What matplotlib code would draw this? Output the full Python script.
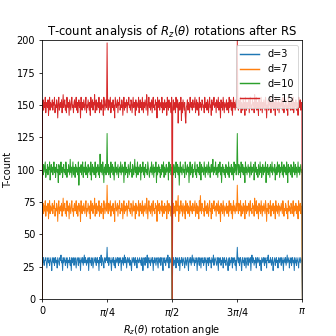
import matplotlib
matplotlib.use("Agg")
import matplotlib.pyplot as plt
import numpy as np

# T-count per rotation angle (481 angles from 0 to pi)
tc_d3 = [
    0, 30, 28, 32, 26, 30, 30, 32, 28, 24, 30, 32, 28, 30, 26, 32, 30, 28, 22, 32,
    30, 28, 32, 26, 30, 32, 28, 30, 24, 32, 30, 28, 26, 32, 30, 34, 28, 30, 22, 32,
    28, 30, 32, 26, 30, 28, 32, 24, 30, 30, 28, 32, 26, 30, 22, 32, 28, 30, 32, 26,
    30, 32, 28, 24, 30, 32, 30, 26, 32, 28, 30, 22, 32, 30, 28, 32, 26, 30, 34, 28,
    32, 30, 26, 30, 28, 32, 22, 30, 32, 28, 30, 26, 32, 30, 24, 28, 32, 30, 28, 32,
    26, 30, 32, 28, 30, 22, 32, 28, 30, 34, 26, 32, 30, 28, 24, 32, 30, 28, 32, 30,
    40, 28, 32, 26, 30, 32, 28, 30, 22, 32, 30, 28, 32, 26, 30, 24, 32, 30, 28, 32,
    30, 26, 32, 28, 30, 32, 22, 30, 28, 32, 26, 30, 34, 28, 32, 30, 24, 30, 32, 28,
    30, 32, 26, 30, 28, 22, 32, 30, 28, 32, 30, 26, 32, 28, 30, 24, 32, 30, 28, 30,
    32, 28, 30, 26, 32, 30, 22, 28, 32, 30, 26, 32, 28, 30, 34, 24, 30, 32, 28, 30,
    26, 32, 30, 28, 32, 22, 30, 28, 32, 30, 26, 30, 32, 28, 24, 32, 30, 28, 32, 26,
    30, 32, 28, 22, 30, 32, 28, 30, 26, 32, 30, 28, 34, 30, 24, 32, 28, 30, 32, 22,
    0, 30, 32, 26, 30, 28, 32, 24, 30, 32, 28, 30, 26, 32, 22, 30, 28, 32, 30, 26,
    32, 30, 28, 24, 32, 30, 26, 30, 32, 28, 22, 32, 30, 28, 32, 26, 30, 34, 28, 30,
    32, 26, 30, 28, 32, 30, 22, 30, 32, 28, 26, 32, 30, 24, 30, 32, 28, 30, 26, 32,
    28, 30, 32, 22, 30, 28, 32, 26, 30, 32, 28, 30, 24, 32, 30, 28, 34, 26, 30, 32,
    30, 28, 26, 32, 30, 22, 32, 28, 30, 32, 26, 30, 28, 32, 24, 30, 32, 28, 30, 26,
    32, 30, 28, 22, 30, 32, 26, 30, 28, 32, 30, 24, 32, 28, 30, 32, 26, 30, 22, 32,
    40, 30, 28, 32, 26, 30, 32, 28, 22, 30, 32, 28, 30, 26, 32, 30, 24, 28, 32, 30,
    26, 32, 30, 28, 32, 22, 30, 34, 28, 32, 30, 26, 30, 28, 32, 24, 30, 32, 28, 30,
    32, 26, 30, 28, 22, 32, 30, 28, 32, 30, 26, 32, 28, 30, 24, 32, 30, 34, 28, 30,
    28, 32, 30, 26, 30, 32, 22, 28, 30, 32, 26, 30, 32, 28, 30, 24, 32, 30, 28, 32,
    30, 26, 32, 28, 30, 22, 32, 30, 28, 32, 26, 30, 34, 28, 30, 32, 24, 30, 28, 32,
    26, 30, 32, 28, 30, 22, 32, 28, 30, 26, 32, 30, 28, 24, 32, 30, 28, 32, 30, 28,
    0]

tc_d7 = [
    0, 70, 74, 66, 72, 68, 76, 64, 70, 72, 68, 74, 62, 70, 76, 66, 72, 70, 68, 74,
    66, 72, 70, 76, 64, 70, 68, 74, 70, 60, 72, 76, 66, 70, 72, 68, 74, 64, 70, 78,
    68, 72, 74, 66, 70, 64, 76, 70, 68, 72, 62, 74, 70, 66, 72, 76, 68, 70, 64, 72,
    74, 68, 70, 76, 66, 72, 64, 70, 74, 68, 72, 60, 76, 70, 66, 72, 68, 74, 70, 66,
    72, 76, 64, 70, 68, 74, 70, 66, 72, 62, 76, 70, 68, 74, 66, 72, 70, 78, 64, 70,
    74, 66, 72, 70, 68, 76, 64, 72, 70, 66, 74, 68, 70, 62, 76, 72, 66, 70, 74, 68,
    88, 70, 66, 74, 68, 72, 76, 64, 70, 72, 68, 74, 66, 70, 60, 76, 72, 68, 70, 74,
    64, 72, 70, 76, 66, 70, 68, 74, 72, 62, 70, 76, 66, 72, 68, 70, 74, 64, 72, 70,
    76, 68, 70, 66, 74, 72, 64, 70, 76, 68, 72, 70, 62, 74, 66, 72, 70, 68, 76, 64,
    70, 74, 68, 72, 66, 76, 70, 64, 72, 68, 74, 70, 66, 78, 72, 62, 70, 76, 68, 72,
    66, 70, 74, 64, 72, 76, 68, 70, 66, 74, 70, 72, 60, 76, 68, 70, 74, 66, 72, 70,
    68, 76, 64, 72, 70, 66, 74, 70, 68, 72, 62, 76, 70, 66, 74, 68, 72, 70, 64, 76,
    0, 68, 74, 66, 70, 72, 64, 76, 70, 68, 74, 80, 60, 72, 66, 70, 76, 68, 72, 64,
    74, 70, 66, 72, 62, 76, 68, 70, 74, 66, 72, 70, 64, 76, 70, 68, 72, 66, 74, 70,
    68, 72, 76, 64, 70, 74, 66, 72, 70, 62, 76, 68, 80, 70, 66, 74, 72, 68, 70, 64,
    76, 70, 68, 72, 66, 74, 70, 64, 72, 76, 68, 70, 62, 74, 66, 72, 70, 76, 68, 70,
    72, 64, 74, 70, 68, 76, 66, 72, 70, 60, 74, 68, 72, 66, 76, 70, 64, 72, 70, 68,
    74, 66, 70, 72, 64, 76, 68, 70, 74, 66, 72, 62, 70, 76, 68, 72, 66, 70, 74, 68,
    88, 72, 66, 74, 70, 68, 76, 64, 72, 70, 66, 74, 68, 72, 62, 76, 70, 66, 72, 68,
    70, 74, 64, 72, 76, 68, 70, 66, 74, 70, 72, 64, 78, 68, 70, 76, 66, 72, 70, 62,
    74, 68, 72, 66, 76, 70, 64, 72, 68, 74, 70, 66, 76, 72, 60, 70, 68, 74, 66, 72,
    70, 76, 64, 72, 68, 70, 74, 66, 72, 70, 62, 76, 68, 72, 66, 70, 74, 64, 72, 70,
    68, 74, 70, 66, 76, 72, 64, 70, 68, 74, 72, 66, 70, 62, 76, 68, 72, 70, 66, 74,
    72, 66, 70, 76, 64, 72, 68, 70, 74, 66, 72, 70, 62, 76, 68, 70, 74, 66, 72, 70,
    0]

tc_d10 = [
    0, 100, 96, 104, 98, 102, 106, 94, 100, 98, 104, 96, 102, 100, 106, 92, 100, 104, 98, 102,
    96, 100, 106, 98, 102, 94, 100, 104, 98, 100, 90, 104, 102, 96, 100, 106, 98, 102, 94, 100,
    104, 98, 100, 96, 106, 102, 94, 100, 98, 104, 100, 96, 108, 98, 102, 94, 100, 106, 96, 102,
    100, 94, 104, 98, 102, 100, 96, 106, 88, 100, 102, 98, 104, 96, 100, 106, 94, 102, 98, 100,
    106, 96, 102, 100, 94, 104, 98, 100, 102, 96, 106, 92, 100, 104, 98, 102, 96, 100, 106, 94,
    102, 98, 100, 104, 96, 102, 94, 112, 100, 98, 104, 96, 106, 100, 90, 102, 98, 104, 96, 100,
    128, 98, 104, 96, 100, 102, 94, 106, 98, 100, 104, 96, 102, 92, 100, 106, 98, 102, 96, 100,
    104, 94, 100, 102, 98, 106, 96, 100, 104, 98, 102, 90, 100, 106, 96, 102, 98, 100, 94, 104,
    100, 96, 102, 106, 98, 100, 94, 104, 102, 96, 100, 108, 98, 102, 94, 100, 106, 96, 102, 98,
    100, 104, 92, 102, 98, 100, 106, 96, 102, 94, 100, 104, 98, 100, 96, 106, 102, 98, 94, 100,
    102, 98, 106, 96, 100, 104, 94, 102, 98, 100, 106, 90, 102, 96, 100, 104, 98, 102, 94, 100,
    96, 104, 100, 98, 106, 94, 102, 100, 96, 104, 98, 100, 102, 92, 106, 98, 100, 104, 96, 102,
    0, 100, 96, 104, 98, 102, 94, 106, 100, 98, 104, 96, 102, 88, 100, 106, 98, 102, 96, 100,
    104, 98, 100, 94, 106, 102, 96, 100, 104, 98, 102, 90, 100, 106, 96, 102, 98, 104, 94, 100,
    98, 102, 106, 96, 100, 94, 104, 100, 98, 102, 96, 106, 100, 92, 104, 98, 102, 100, 96, 106,
    100, 94, 102, 98, 104, 100, 96, 106, 98, 102, 94, 100, 104, 98, 100, 108, 96, 102, 98, 100,
    106, 96, 100, 102, 94, 104, 98, 100, 106, 96, 102, 90, 100, 104, 98, 102, 96, 100, 94, 104,
    98, 102, 100, 96, 106, 94, 102, 98, 100, 104, 96, 102, 100, 92, 106, 98, 100, 104, 96, 102,
    128, 100, 96, 104, 98, 102, 94, 106, 100, 98, 104, 96, 102, 100, 90, 106, 98, 102, 96, 100,
    104, 98, 102, 94, 100, 106, 96, 102, 98, 100, 104, 92, 100, 106, 98, 102, 96, 100, 94, 104,
    100, 96, 106, 98, 102, 94, 100, 104, 96, 102, 98, 100, 106, 90, 102, 98, 104, 96, 100, 102,
    94, 104, 100, 98, 106, 96, 102, 100, 98, 104, 92, 100, 102, 96, 106, 98, 100, 104, 94, 102,
    98, 100, 106, 96, 102, 94, 104, 100, 98, 102, 96, 106, 100, 90, 104, 98, 102, 100, 96, 104,
    100, 94, 102, 98, 106, 100, 96, 104, 98, 102, 94, 100, 106, 98, 102, 96, 100, 104, 98, 100,
    0]

tc_d15 = [
    0, 150, 154, 146, 152, 148, 156, 144, 150, 152, 148, 154, 142, 150, 156, 146, 152, 150, 148, 154,
    146, 152, 150, 156, 144, 150, 148, 154, 150, 140, 152, 156, 146, 150, 152, 148, 154, 144, 150, 158,
    148, 152, 154, 146, 150, 144, 156, 150, 148, 152, 142, 154, 150, 146, 152, 156, 148, 150, 144, 152,
    154, 148, 150, 156, 146, 152, 144, 150, 154, 148, 152, 140, 156, 150, 146, 152, 148, 154, 150, 146,
    152, 156, 144, 150, 148, 154, 150, 146, 152, 142, 156, 150, 148, 154, 146, 152, 150, 158, 144, 150,
    154, 146, 152, 150, 148, 156, 144, 152, 150, 146, 154, 148, 150, 142, 156, 152, 146, 150, 154, 148,
    198, 150, 146, 154, 148, 152, 156, 144, 150, 152, 148, 154, 146, 150, 140, 156, 152, 148, 150, 154,
    144, 152, 150, 156, 146, 150, 148, 154, 152, 142, 150, 156, 146, 152, 148, 150, 154, 144, 152, 150,
    156, 148, 150, 146, 154, 152, 144, 150, 156, 148, 152, 150, 142, 154, 146, 152, 150, 148, 156, 144,
    150, 154, 148, 152, 146, 156, 150, 144, 152, 148, 154, 150, 146, 158, 152, 142, 150, 156, 148, 152,
    146, 150, 154, 144, 152, 156, 148, 150, 146, 154, 150, 152, 140, 156, 148, 150, 154, 146, 152, 150,
    148, 156, 144, 152, 150, 146, 154, 150, 148, 152, 142, 156, 150, 146, 154, 148, 152, 150, 144, 156,
    0, 148, 154, 146, 150, 152, 144, 156, 150, 148, 154, 136, 150, 152, 146, 150, 156, 138, 152, 144,
    154, 150, 146, 152, 142, 136, 148, 150, 154, 146, 152, 150, 144, 156, 150, 148, 152, 146, 154, 150,
    148, 152, 156, 144, 150, 154, 146, 152, 150, 142, 156, 148, 152, 150, 146, 154, 152, 148, 150, 144,
    156, 150, 148, 152, 146, 154, 150, 144, 152, 156, 148, 150, 142, 154, 146, 152, 150, 156, 148, 150,
    152, 144, 154, 150, 148, 156, 146, 152, 150, 140, 154, 148, 152, 146, 156, 150, 144, 152, 150, 148,
    154, 146, 150, 152, 144, 156, 148, 150, 154, 146, 152, 142, 150, 156, 148, 152, 146, 150, 154, 148,
    200, 152, 146, 154, 150, 148, 156, 144, 152, 150, 146, 154, 148, 152, 142, 156, 150, 146, 152, 148,
    150, 154, 144, 152, 156, 148, 150, 146, 154, 150, 152, 144, 158, 148, 150, 156, 146, 152, 150, 142,
    154, 148, 152, 146, 156, 150, 144, 152, 148, 154, 150, 146, 156, 152, 140, 150, 148, 154, 146, 152,
    150, 156, 144, 152, 148, 150, 154, 146, 152, 150, 142, 156, 148, 152, 146, 150, 154, 144, 152, 150,
    148, 154, 150, 146, 156, 152, 144, 150, 148, 154, 152, 146, 150, 142, 156, 148, 152, 150, 146, 154,
    152, 146, 150, 156, 144, 152, 148, 150, 154, 146, 152, 150, 142, 156, 148, 150, 154, 146, 152, 150,
    0]

depths = [3, 7, 10, 15]
series = [tc_d3, tc_d7, tc_d10, tc_d15]
tick_labels = ['0', r'$\pi/4$', r'$\pi/2$', r'$3\pi/4$', r'$\pi$']

fig, ax = plt.subplots(figsize=(4.8, 4.8), dpi=70)
for d, tc in zip(depths, series):
    theta = np.linspace(0, np.pi, len(tc))
    ax.plot(theta, tc, lw=1.0, label='d=%d' % d)

ax.set_xlim(0, np.pi)
ax.set_ylim(0, 200)
ax.set_xticks(np.linspace(0, np.pi, 5))
ax.set_xticklabels(tick_labels)
ax.set_yticks(np.arange(0, 201, 25))
ax.set_title(r'T-count analysis of $R_z(\theta)$ rotations after RS', pad=4)
ax.set_xlabel(r'$R_z(\theta)$ rotation angle')
ax.set_ylabel('T-count')
leg = ax.legend(loc='upper right')
for line in leg.get_lines():
    line.set_linewidth(1.5)

fig.savefig('out.png', dpi=70)
